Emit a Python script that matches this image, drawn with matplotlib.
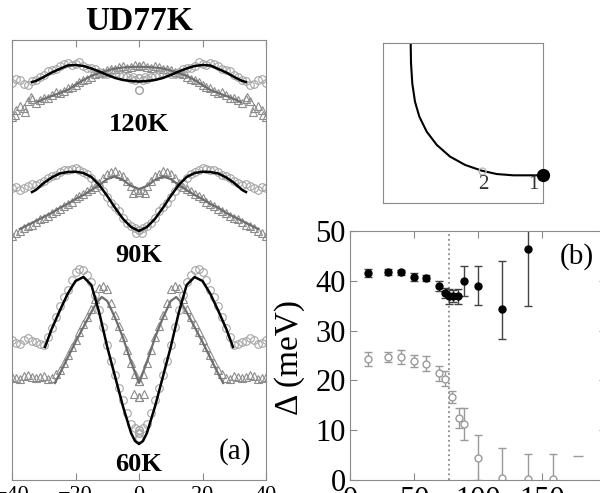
import matplotlib.pyplot as plt
import numpy as np

plt.rcParams['font.family'] = ['Liberation Serif', 'DejaVu Serif']

# ---------------- panel (a): gap along the FS, symmetrised about 0 ----------------
ang = [-40, -37.5, -35, -32.5, -30, -27.5, -25, -22.5, -20,
       -17.5, -15, -12.5, -10, -7.5, -5, -2.5, 0]
ang2 = [-38.75, -36.25, -33.75, -31.25, -28.75, -26.25, -23.75, -21.25,
        -18.75, -16.25, -13.75, -11.25, -8.75, -6.25, -3.75, -1.25]

c120 = [39.0, 39.3, 38.8, 39.3, 39.8, 40.3, 40.7, 41.0, 40.9,
        40.7, 40.5, 40.1, 39.9, 40.0, 39.7, 39.4, 39.5]
c120b = [39.4, 38.9, 39.2, 39.6, 40.2, 40.4, 40.9, 40.8,
         41.1, 40.5, 40.4, 39.9, 40.2, 39.8, 39.6, 39.3]
t120 = [35.6, 36.7, 37.2, 37.0, 37.5, 37.8, 38.0, 38.5, 38.8,
        39.3, 39.6, 40.0, 40.3, 40.4, 40.7, 40.6, 40.7]
t120b = [36.3, 36.5, 37.4, 37.3, 37.5, 38.1, 38.2, 38.6,
         39.1, 39.4, 39.9, 40.1, 40.4, 40.6, 40.5, 40.8]
c90 = [28.5, 28.3, 28.7, 28.8, 29.2, 29.7, 30.1, 30.3, 30.5,
       30.1, 29.5, 28.7, 27.6, 26.6, 25.5, 24.7, 24.3]
c90b = [28.6, 28.5, 28.9, 29.0, 29.5, 29.8, 30.3, 30.4,
        30.3, 29.9, 29.0, 28.2, 27.0, 26.2, 25.0, 24.5]
t90 = [23.7, 24.2, 24.7, 25.1, 25.5, 26.0, 26.4, 26.9, 27.5,
       27.9, 28.4, 29.0, 29.9, 30.2, 29.7, 28.7, 28.1]
t90b = [24.0, 24.5, 24.8, 25.4, 25.7, 26.2, 26.7, 27.1,
        27.7, 28.2, 28.6, 29.5, 30.1, 29.9, 29.2, 28.3]
c60 = [13.3, 12.9, 13.5, 13.1, 12.8, 14.5, 16.7, 18.3, 20.1,
       20.3, 19.1, 16.3, 12.8, 9.8, 7.3, 4.9, 4.3]
c60b = [13.0, 13.3, 13.2, 12.9, 13.6, 15.6, 17.6, 19.3,
        20.4, 19.8, 17.8, 14.6, 11.2, 8.5, 6.0, 4.5]
t60 = [9.6, 9.4, 9.8, 9.5, 9.7, 9.5, 10.3, 11.8, 13.3,
       14.9, 16.4, 18.5, 18.4, 15.8, 13.6, 11.0, 9.2]
t60b = [9.5, 9.7, 9.6, 9.6, 9.4, 9.9, 11.0, 12.6,
        14.1, 15.6, 17.4, 18.7, 17.0, 14.7, 12.3, 9.9]

# a few stray points
xc_extra = [0, -2, 0, -1, 0]
yc_extra = [38.3, 39.6, 3.5, 24.0, 4.0]
xt_extra = [-39, -36, -34, 0, -1.5, -2]
yt_extra = [35.8, 36.1, 37.6, 7.6, 7.9, 28.0]

# fit curves (left half)
b120_x = [-33.7, -32.5, -30, -27.5, -25, -22.5, -20, -17.5, -15, -12.5, -10, -7.5, -5, -2.5, 0]
b120_y = [39.1, 39.2, 39.6, 40.05, 40.4, 40.75, 40.8, 40.7, 40.45, 40.15, 39.8, 39.5, 39.3, 39.2, 39.15]
g120_x = [-32, -30, -27.5, -25, -22.5, -20, -17.5, -15, -12.5, -10, -7.5, -5, -2.5, 0]
g120_y = [37.1, 37.4, 37.7, 38.0, 38.3, 38.8, 39.3, 39.7, 40.0, 40.25, 40.45, 40.55, 40.6, 40.63]
b90_x = b120_x
b90_y = [28.1, 28.3, 29.0, 29.55, 29.95, 30.1, 30.13, 30.0, 29.6, 28.8, 27.7, 26.5, 25.4, 24.6, 24.2]
g90_x = [-37.5, -35, -32.5, -30, -27.5, -25, -22.5, -20, -17.5, -15, -12.5, -10, -7.5, -5, -2.5, 0]
g90_y = [24.4, 24.8, 25.2, 25.6, 26.0, 26.5, 26.9, 27.4, 27.8, 28.3, 28.8, 29.4, 29.65, 29.3, 28.7, 28.4]
b60_x = [-29.6, -27.5, -25, -22.5, -20, -17.5, -15, -12.5, -10, -7.5, -5, -2.5, -1.25, 0]
b60_y = [12.6, 14.4, 16.2, 17.9, 19.2, 19.6, 18.8, 16.0, 12.6, 9.6, 6.6, 4.0, 3.2, 2.9]
g60_x = [-26.5, -25, -22.5, -20, -17.5, -15, -13.2, -11.7, -10, -7.5, -5, -2.5, 0]
g60_y = [9.0, 9.9, 11.5, 13.1, 14.6, 16.1, 17.1, 17.6, 17.2, 15.5, 13.5, 11.1, 9.0]

temps = ['120K', '90K', '60K']
temp_y = [34.85, 21.8, 0.85]

# ---------------- panel (b): gap vs temperature ----------------
T1 = [14.3, 30, 39.8, 50, 59.4, 69.8, 74.5, 77.6, 80.7, 84.6, 89.3, 99.7, 118.5, 138.8]
d1 = [41.5, 41.7, 41.7, 40.8, 40.5, 38.9, 37.6, 36.9, 36.9, 36.9, 39.9, 38.9, 34.3, 46.3]
d1_lo = [0.8, 0.6, 0.5, 0.8, 0.6, 1.0, 1.0, 1.5, 1.2, 1.5, 3.0, 3.7, 5.9, 11.4]
d1_hi = [0.8, 0.6, 0.5, 0.8, 0.6, 1.0, 1.0, 1.5, 1.2, 1.5, 3.0, 4.0, 9.7, 11.4]

T2 = [14.3, 30, 39.8, 50, 59.4, 69.8, 74.5, 79.4, 85.4, 89.3, 99.7, 118.5, 138.8, 158.9]
d2 = [24.3, 24.7, 24.7, 23.9, 23.3, 21.4, 20.3, 16.6, 12.4, 11.2, 4.5, 0.5, 0.3, 0.3]
d2_lo = [1.5, 1.0, 1.5, 1.3, 1.5, 1.5, 1.5, 1.2, 2.0, 3.2, 4.5, 0.5, 0.3, 0.3]
d2_hi = [1.5, 1.0, 1.5, 1.3, 1.5, 1.5, 1.5, 1.2, 2.0, 3.2, 4.6, 5.9, 5.0, 5.0]

Tc = 77

# ---------------- inset: Fermi surface ----------------
fs_kx = [0.173, 0.175, 0.183, 0.2, 0.227, 0.273, 0.336, 0.419, 0.513, 0.617, 0.711, 0.815, 1.0]
fs_ky = [1.0, 0.875, 0.748, 0.633, 0.54, 0.446, 0.363, 0.29, 0.238, 0.202, 0.181, 0.173, 0.173]


def mirror(x, y):
    x = np.asarray(x, float)
    y = np.asarray(y, float)
    return np.concatenate([x, -x[::-1]]), np.concatenate([y, y[::-1]])


fig = plt.figure(figsize=(6, 4.93), dpi=100)
spine_col = '#8a8a8a'

# --- (a)
ax1 = fig.add_axes([0.02, 1 - 480 / 493, 254 / 600, 440 / 493])
circ = dict(ls='none', marker='o', ms=5.5, mfc='none', mec='#a5a5a5', mew=0.8)
tri = dict(ls='none', marker='^', ms=5.5, mfc='none', mec='#8c8c8c', mew=0.8)
series = [(c120, c120b, t120, t120b), (c90, c90b, t90, t90b), (c60, c60b, t60, t60b)]
for yc, yc2, yt, yt2 in series:
    ax1.plot(*mirror(ang, yt), **tri)
    ax1.plot(*mirror(ang2, yt2), **tri)
    ax1.plot(*mirror(ang, yc), **circ)
    ax1.plot(*mirror(ang2, yc2), **circ)
ax1.plot(*mirror(xc_extra, yc_extra), **circ)
ax1.plot(*mirror(xt_extra, yt_extra), **tri)
for gx, gy in [(g120_x, g120_y), (g90_x, g90_y), (g60_x, g60_y)]:
    ax1.plot(*mirror(gx, gy), color='#6e6e6e', lw=1.6)
for bx, by in [(b120_x, b120_y), (b90_x, b90_y), (b60_x, b60_y)]:
    ax1.plot(*mirror(bx, by), color='black', lw=1.8)
for lab, y in zip(temps, temp_y):
    ax1.text(0, y, lab, ha='center', va='center', fontsize=19, fontweight='bold')
ax1.text(30.2, 2.1, '(a)', ha='center', va='center', fontsize=21)
ax1.set_xlim(-40, 40)
ax1.set_ylim(-0.7, 43.3)
ax1.set_xticks([-40, -20, 0, 20, 40])
ax1.set_yticks([])
ax1.tick_params(axis='x', direction='in', top=True, length=5, color=spine_col,
                labelsize=16, pad=4.5)
for s in ax1.spines.values():
    s.set_color(spine_col)
fig.text(139 / 600, 1 - 21 / 493, 'UD77K', ha='center', va='center',
         fontsize=24, fontweight='bold')

# --- (b)
ax2 = fig.add_axes([350 / 600, 1 - 480 / 493, 256 / 600, 249 / 493])
ax2.axvline(Tc, color='#8a8a8a', ls=':', lw=1.3)
ax2.errorbar(T2, d2, yerr=[d2_lo, d2_hi], fmt='o', ms=5, mfc='white', mec='#9a9a9a',
             ecolor='#9a9a9a', elinewidth=1, capsize=3)
ax2.errorbar(T1, d1, yerr=[d1_lo, d1_hi], fmt='o', ms=5, color='black',
             ecolor='#444444', elinewidth=1, capsize=3)
ax2.plot([178], [4.8], marker='_', ms=7, color='#9a9a9a', ls='none')
ax2.text(177.3, 44.8, '(b)', ha='center', va='center', fontsize=21)
ax2.set_xlim(0, 200)
ax2.set_ylim(0, 50)
ax2.set_xticks([0, 50, 100, 150])
ax2.set_yticks([0, 10, 20, 30, 40, 50])
ax2.tick_params(direction='in', top=True, right=True, length=5, color=spine_col,
                labelsize=22)
ax2.tick_params(axis='x', pad=4)
ax2.tick_params(axis='y', pad=3)
ax2.set_ylabel('Δ (meV)', fontsize=24)
ax2.yaxis.set_label_coords(-0.175, 0.49)
for s in ax2.spines.values():
    s.set_color(spine_col)

# --- inset
ax3 = fig.add_axes([383 / 600, 1 - 203 / 493, 160 / 600, 160 / 493])
ax3.plot(fs_kx, fs_ky, color='black', lw=1.5)
ax3.plot([0.617], [0.2], marker='o', ms=5, mfc='none', mec='#bbbbbb', ls='none')
ax3.plot([1.0], [0.173], marker='o', ms=8.5, color='black', clip_on=False, zorder=5)
ax3.text(0.625, 0.115, '2', ha='center', va='center', fontsize=15, color='#333333')
ax3.text(0.94, 0.115, '1', ha='center', va='center', fontsize=15, color='#333333')
ax3.set_xlim(0, 1)
ax3.set_ylim(0, 1)
ax3.set_xticks([])
ax3.set_yticks([])
for s in ax3.spines.values():
    s.set_color(spine_col)

fig.savefig('out.png', dpi=100)
